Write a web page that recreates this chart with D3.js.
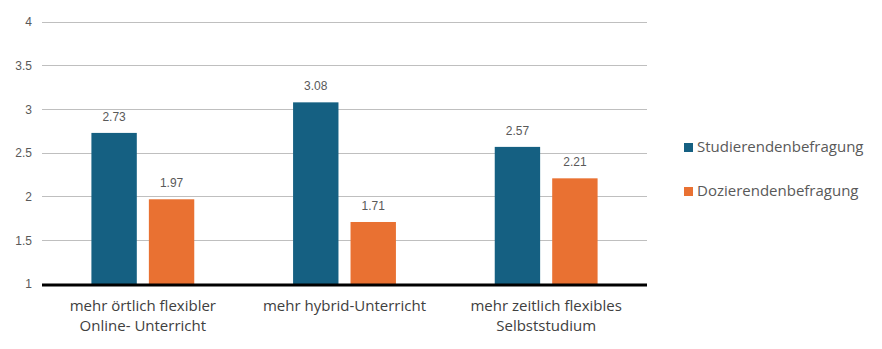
<!DOCTYPE html>
<html>
<head>
<meta charset="utf-8">
<script src="https://cdn.jsdelivr.net/npm/d3@7"></script>
<style>
  html, body { margin: 0; padding: 0; background: #fff; }
  svg { display: block; font-family: "Liberation Sans", Arial, sans-serif; }
  .big { font-family: "Open Sans", "Liberation Sans", sans-serif; }
</style>
</head>
<body>
<svg id="chart" width="882" height="349"></svg>
<script>
const categories = [
  ["mehr örtlich flexibler", "Online- Unterricht"],
  ["mehr hybrid-Unterricht"],
  ["mehr zeitlich flexibles", "Selbststudium"]
];
const seriesNames = ["Studierendenbefragung", "Dozierendenbefragung"];
const studierende = [2.73, 3.08, 2.57];
const dozierende = [1.97, 1.71, 2.21];
const yTicks = [1, 1.5, 2, 2.5, 3, 3.5, 4];
const colors = ["#156082", "#E97132"];

const series = [studierende, dozierende];
const svg = d3.select("#chart");
const margin = { left: 42, right: 235, top: 22, bottom: 65 };
const W = 882, H = 349;

const x0 = d3.scaleBand()
  .domain(d3.range(categories.length))
  .range([margin.left, W - margin.right])
  .paddingInner(0.49)
  .paddingOuter(0.245);
const x1 = d3.scaleBand()
  .domain(d3.range(series.length))
  .range([0, x0.bandwidth()])
  .paddingInner(0.21);
const y = d3.scaleLinear().domain([1, 4]).range([H - margin.bottom, margin.top]);

// horizontal gridlines
svg.append("g")
  .selectAll("line")
  .data(yTicks.filter(t => t > 1))
  .join("line")
  .attr("x1", margin.left).attr("x2", W - margin.right)
  .attr("y1", d => y(d)).attr("y2", d => y(d))
  .attr("stroke", "#BFBFBF").attr("stroke-width", 1)
  .attr("shape-rendering", "crispEdges");

// y axis labels
const yAxis = d3.axisLeft(y).tickValues(yTicks).tickSize(0).tickPadding(10)
  .tickFormat(d => String(d));
const gy = svg.append("g").attr("transform", `translate(${margin.left},0)`).call(yAxis);
gy.select(".domain").remove();
gy.selectAll("text").attr("fill", "#595959").style("font-size", "12px")
  .style("font-family", "Liberation Sans, Arial, sans-serif");

// bars
series.forEach((vals, si) => {
  const g = svg.append("g");
  g.selectAll("rect")
    .data(vals)
    .join("rect")
    .attr("x", (d, i) => x0(i) + x1(si))
    .attr("width", x1.bandwidth())
    .attr("y", d => y(d))
    .attr("height", d => y(1) - y(d))
    .attr("fill", colors[si]);
  g.selectAll("text")
    .data(vals)
    .join("text")
    .attr("x", (d, i) => x0(i) + x1(si) + x1.bandwidth() / 2)
    .attr("y", d => y(d) - 12)
    .attr("text-anchor", "middle")
    .attr("fill", "#595959")
    .style("font-size", "12px")
    .text(d => d.toFixed(2));
});

// baseline
svg.append("line")
  .attr("x1", margin.left).attr("x2", W - margin.right)
  .attr("y1", y(1) + 1).attr("y2", y(1) + 1)
  .attr("stroke", "#000").attr("stroke-width", 3);

// category labels
const cat = svg.append("g");
categories.forEach((lines, i) => {
  const t = cat.append("text")
    .attr("class", "big")
    .attr("x", x0(i) + x0.bandwidth() / 2)
    .attr("y", y(1) + 27)
    .attr("text-anchor", "middle")
    .attr("fill", "#404040")
    .style("font-size", "15px");
  lines.forEach((ln, k) => {
    t.append("tspan")
      .attr("x", x0(i) + x0.bandwidth() / 2)
      .attr("dy", k === 0 ? 0 : 20)
      .text(ln);
  });
});

// legend
const legend = svg.append("g");
seriesNames.forEach((name, i) => {
  const ly = 147 + i * 44;
  legend.append("rect")
    .attr("x", 684).attr("y", ly - 4)
    .attr("width", 9).attr("height", 9)
    .attr("fill", colors[i]);
  legend.append("text")
    .attr("class", "big")
    .attr("x", 697).attr("y", ly + 5)
    .attr("fill", "#595959")
    .style("font-size", "15px")
    .text(name);
});
</script>
</body>
</html>
